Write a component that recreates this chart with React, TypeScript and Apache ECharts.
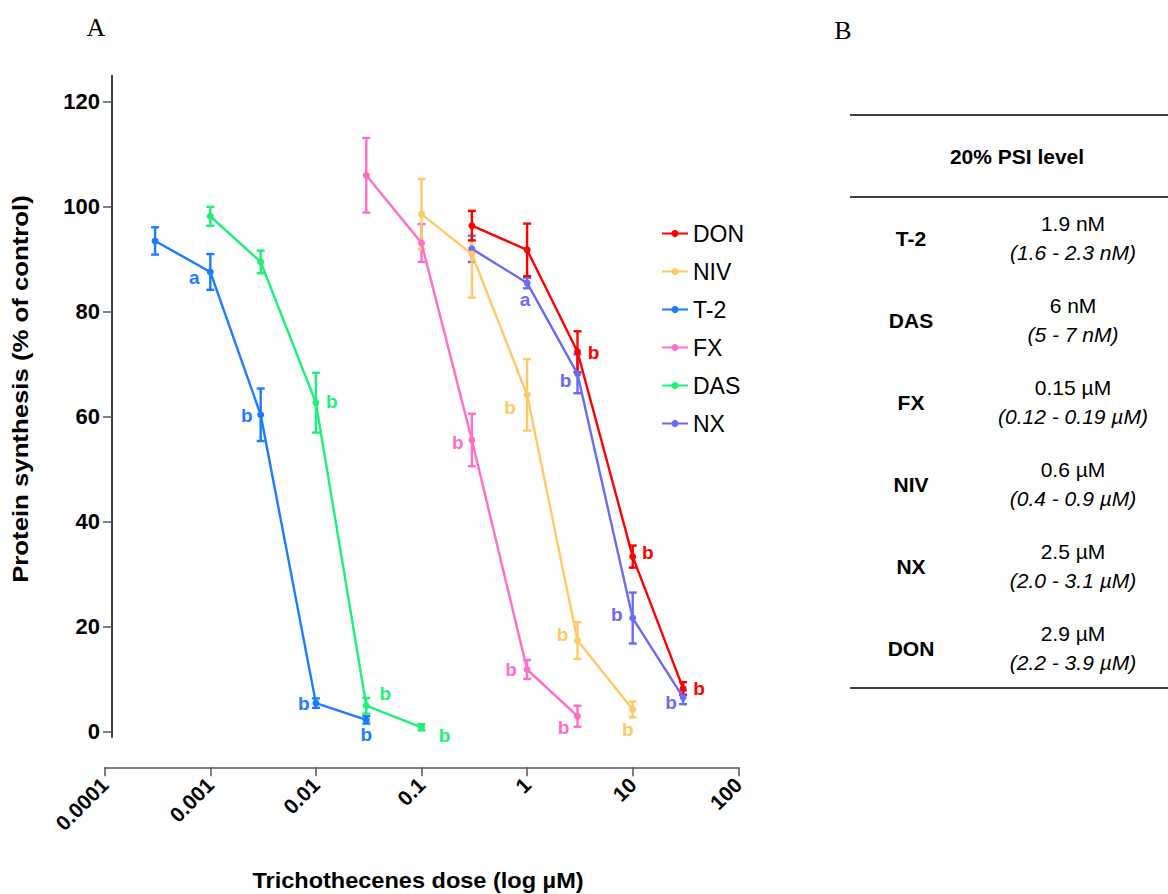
import React, { useEffect, useRef } from "react";
import * as echarts from "echarts";

// ---------- data ----------
const seriesNames = ["DON", "NIV", "T-2", "FX", "DAS", "NX"];

const donX = [0.3, 1, 3, 10, 30];
const donY = [96.4, 91.8, 72.4, 33.4, 8.3];
const donErr = [2.8, 5.0, 3.9, 2.1, 1.2];
const donLetters = ["", "", "b", "b", "b"];

const nivX = [0.1, 0.3, 1, 3, 10];
const nivY = [98.6, 91.0, 64.2, 17.4, 4.3];
const nivErr = [6.7, 8.3, 6.8, 3.5, 1.5];
const nivLetters = ["", "", "b", "b", "b"];

const t2X = [0.0003, 0.001, 0.003, 0.01, 0.03];
const t2Y = [93.5, 87.6, 60.4, 5.5, 2.3];
const t2Err = [2.6, 3.4, 5.0, 0.9, 0.7];
const t2Letters = ["", "a", "b", "b", "b"];

const fxX = [0.03, 0.1, 0.3, 1, 3];
const fxY = [106.0, 93.1, 55.6, 11.9, 3.0];
const fxErr = [7.1, 3.6, 5.0, 1.8, 2.0];
const fxLetters = ["", "", "b", "b", "b"];

const dasX = [0.001, 0.003, 0.01, 0.03, 0.1];
const dasY = [98.2, 89.5, 62.7, 5.0, 0.9];
const dasErr = [1.8, 2.15, 5.7, 1.5, 0.6];
const dasLetters = ["", "", "b", "b", "b"];

const nxX = [0.3, 1, 3, 10, 30];
const nxY = [92.0, 85.5, 68.2, 21.7, 6.6];
const nxErr = [2.5, 1.0, 3.7, 4.85, 1.3];
const nxLetters = ["", "a", "b", "b", "b"];

const xTickLabels = ["0.0001", "0.001", "0.01", "0.1", "1", "10", "100"];
const yTicks = [0, 20, 40, 60, 80, 100, 120];

const tableNames = ["T-2", "DAS", "FX", "NIV", "NX", "DON"];
const tableValues = ["1.9 nM", "6 nM", "0.15 µM", "0.6 µM", "2.5 µM", "2.9 µM"];
const tableRanges = [
  "(1.6 - 2.3 nM)",
  "(5 - 7 nM)",
  "(0.12 - 0.19 µM)",
  "(0.4 - 0.9 µM)",
  "(2.0 - 3.1 µM)",
  "(2.2 - 3.9 µM)",
];

// ---------- styling / layout ----------
const FONT = "'Liberation Sans', Arial, Helvetica, sans-serif";
const SERIF = "'Liberation Serif', 'Times New Roman', serif";

const colors: Record<string, string> = {
  DON: "#ff0000",
  NIV: "#ffc966",
  "T-2": "#1a7dff",
  FX: "#ff6ec7",
  DAS: "#1ff07a",
  NX: "#6b6bf5",
};

// letter label offsets (relative to the point), per series
const letterOffsets: Record<string, (number[] | null)[]> = {
  DON: [null, null, [16, 1], [15, -4], [16, 0]],
  NIV: [null, null, [-17, 13], [-15, -6], [-5, 20]],
  "T-2": [null, [-16, 6], [-14, 1], [-12, 0], [0, 15]],
  FX: [null, null, [-14, 3], [-16, 0], [-14, 11]],
  DAS: [null, null, [16, -1], [19, -12], [23, 8]],
  NX: [null, [-2, 17], [-12, 7], [-16, -4], [-12, 5]],
};

const seriesData: Record<string, { x: number[]; y: number[]; e: number[]; l: string[] }> = {
  DON: { x: donX, y: donY, e: donErr, l: donLetters },
  NIV: { x: nivX, y: nivY, e: nivErr, l: nivLetters },
  "T-2": { x: t2X, y: t2Y, e: t2Err, l: t2Letters },
  FX: { x: fxX, y: fxY, e: fxErr, l: fxLetters },
  DAS: { x: dasX, y: dasY, e: dasErr, l: dasLetters },
  NX: { x: nxX, y: nxY, e: nxErr, l: nxLetters },
};

const GRID_LEFT = 104.7;
const GRID_RIGHT_X = 738.3;
const GRID_TOP = 75.5;
const GRID_BOTTOM_Y = 737.25;

function buildOption() {
  const series: any[] = [];
  const drawOrder = ["NX", "DAS", "FX", "T-2", "NIV", "DON"];
  drawOrder.forEach((name) => {
    const d = seriesData[name];
    const color = colors[name];
    series.push({
      name: name + " err",
      type: "custom",
      silent: true,
      data: d.x.map((x, i) => [x, d.y[i], d.e[i]]),
      encode: { x: 0, y: 1 },
      renderItem: (params: any, api: any) => {
        const x = api.value(0);
        const y = api.value(1);
        const e = api.value(2);
        const top = api.coord([x, y + e]);
        const bot = api.coord([x, y - e]);
        const hw = 4;
        const st = { stroke: color, lineWidth: 2.4 };
        return {
          type: "group",
          children: [
            { type: "line", shape: { x1: top[0], y1: top[1], x2: bot[0], y2: bot[1] }, style: st },
            { type: "line", shape: { x1: top[0] - hw, y1: top[1], x2: top[0] + hw, y2: top[1] }, style: st },
            { type: "line", shape: { x1: bot[0] - hw, y1: bot[1], x2: bot[0] + hw, y2: bot[1] }, style: st },
          ],
        };
      },
      z: 2,
    });
    series.push({
      name,
      type: "line",
      color,
      symbol: "circle",
      symbolSize: 7,
      lineStyle: { width: 2.4, color },
      itemStyle: { color },
      z: 3,
      data: d.x.map((x, i) => {
        const off = letterOffsets[name][i];
        const item: any = { value: [x, d.y[i]] };
        if (d.l[i] && off) {
          item.label = {
            show: true,
            formatter: d.l[i],
            position: "inside",
            offset: off,
            color,
            fontFamily: FONT,
            fontWeight: "bold",
            fontSize: 19,
          };
        }
        return item;
      }),
    });
  });

  const graphic: any[] = [
    { type: "text", x: 96, y: 27, style: { text: "A", fill: "#000", fontFamily: SERIF, fontSize: 26, align: "center", verticalAlign: "middle" } },
    { type: "text", x: 843, y: 30, style: { text: "B", fill: "#000", fontFamily: SERIF, fontSize: 26, align: "center", verticalAlign: "middle" } },
    {
      type: "text",
      x: 20,
      y: 389,
      rotation: Math.PI / 2,
      scaleX: 1.12,
      style: { text: "Protein synthesis (% of control)", fill: "#000", fontFamily: FONT, fontWeight: "bold", fontSize: 23, align: "center", verticalAlign: "middle" },
    },
    {
      type: "text",
      x: 418,
      y: 880,
      scaleX: 1.07,
      style: { text: "Trichothecenes dose (log µM)", fill: "#000", fontFamily: FONT, fontWeight: "bold", fontSize: 22, align: "center", verticalAlign: "middle" },
    },
    // table
    { type: "line", shape: { x1: 850, y1: 115, x2: 1168, y2: 115 }, style: { stroke: "#000", lineWidth: 1.5 } },
    { type: "line", shape: { x1: 850, y1: 197, x2: 1168, y2: 197 }, style: { stroke: "#000", lineWidth: 1.5 } },
    { type: "line", shape: { x1: 850, y1: 688, x2: 1168, y2: 688 }, style: { stroke: "#000", lineWidth: 1.5 } },
    { type: "text", x: 1017, y: 156, style: { text: "20% PSI level", fill: "#000", fontFamily: FONT, fontWeight: "bold", fontSize: 21, align: "center", verticalAlign: "middle" } },
  ];
  tableNames.forEach((n, i) => {
    const cy = 238 + i * 82;
    graphic.push({ type: "text", x: 911, y: cy, style: { text: n, fill: "#000", fontFamily: FONT, fontWeight: "bold", fontSize: 21, align: "center", verticalAlign: "middle" } });
    graphic.push({ type: "text", x: 1073, y: cy - 15, style: { text: tableValues[i], fill: "#000", fontFamily: FONT, fontSize: 21, align: "center", verticalAlign: "middle" } });
    graphic.push({ type: "text", x: 1073, y: cy + 14, style: { text: tableRanges[i], fill: "#000", fontFamily: FONT, fontStyle: "italic", fontSize: 21, align: "center", verticalAlign: "middle" } });
  });

  return {
    animation: false,
    backgroundColor: "#ffffff",
    grid: {
      left: GRID_LEFT,
      top: GRID_TOP,
      width: GRID_RIGHT_X - GRID_LEFT,
      height: GRID_BOTTOM_Y - GRID_TOP,
      containLabel: false,
    },
    legend: {
      data: seriesNames,
      orient: "vertical",
      left: 656,
      top: 217,
      itemWidth: 26,
      itemHeight: 9,
      itemGap: 15,
      textStyle: { fontFamily: FONT, fontSize: 23, color: "#000", lineHeight: 23 },
      selectedMode: false,
    },
    xAxis: {
      type: "log",
      logBase: 10,
      min: 0.0001,
      max: 100,
      offset: 30,
      axisLine: { show: true, onZero: false, lineStyle: { color: "#555", width: 1.5 } },
      axisTick: { show: true, length: 9, lineStyle: { color: "#555", width: 1.5 } },
      minorTick: { show: false },
      splitLine: { show: false },
      axisLabel: {
        rotate: 45,
        margin: 14,
        color: "#000",
        fontFamily: FONT,
        fontWeight: "bold",
        fontSize: 21,
        formatter: (v: number) => xTickLabels[Math.round(Math.log10(v)) + 4] ?? "",
      },
    },
    yAxis: {
      type: "value",
      min: -1,
      max: 125,
      offset: -(112 - GRID_LEFT),
      axisLine: { show: true, onZero: false, lineStyle: { color: "#000", width: 1.5 } },
      axisTick: { show: true, length: 9, customValues: yTicks, lineStyle: { color: "#555", width: 1.5 } },
      splitLine: { show: false },
      axisLabel: {
        customValues: yTicks,
        margin: 12,
        color: "#000",
        fontFamily: FONT,
        fontWeight: "bold",
        fontSize: 22,
      },
    },
    graphic,
    series,
  };
}

export default function App() {
  const ref = useRef<HTMLDivElement>(null);
  useEffect(() => {
    if (!ref.current) return;
    const chart = echarts.init(ref.current, undefined, { renderer: "svg" });
    chart.setOption(buildOption() as any);
    return () => chart.dispose();
  }, []);
  return (
    <div
      ref={ref}
      style={{ position: "fixed", left: 0, top: 0, width: 1168, height: 894, background: "#fff" }}
    />
  );
}
